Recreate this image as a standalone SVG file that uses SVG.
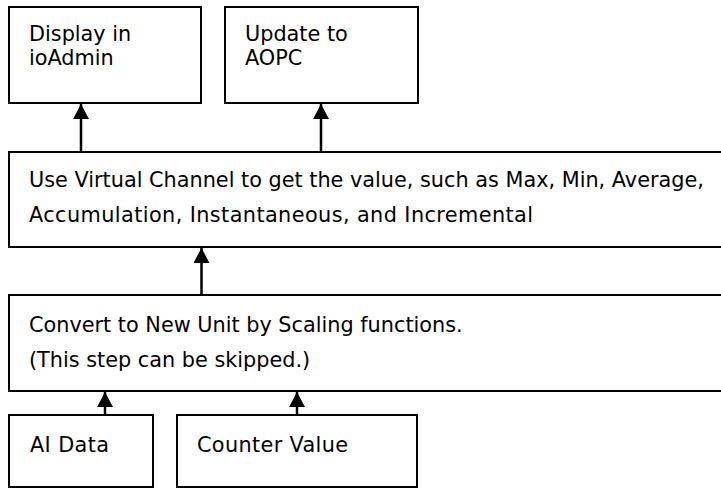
<svg xmlns="http://www.w3.org/2000/svg" width="721" height="488" viewBox="0 0 721 488">
<style>
.box{fill:#fff;stroke:#000;stroke-width:2}
.t{font-family:"DejaVu Sans","Verdana",sans-serif;font-size:20.8px;fill:#000}
.c{stroke:#000;stroke-width:2.5;fill:none}
</style>
<defs>
<marker id="ah" markerUnits="userSpaceOnUse" markerWidth="16" markerHeight="16" viewBox="0 0 16 16" refX="15" refY="8" orient="auto">
<polygon points="0,0 15,8 0,16" fill="#000"/>
</marker>
</defs>
<rect width="721" height="488" fill="#fff"/>
<g id="n1"><rect class="box" x="9" y="7" width="192" height="96"/><text class="t" x="29" y="41">Display in</text><text class="t" x="29" y="64.5">ioAdmin</text></g>
<g id="n2"><rect class="box" x="225" y="7" width="193" height="96"/><text class="t" x="245" y="41">Update to</text><text class="t" x="245" y="64.5">AOPC</text></g>
<g id="n3"><rect class="box" x="9" y="152" width="760" height="95"/><text class="t" x="29" y="187">Use Virtual Channel to get the value, such as Max, Min, Average,</text><text class="t" x="29" y="222" textLength="504" lengthAdjust="spacing">Accumulation, Instantaneous, and Incremental</text></g>
<g id="n4"><rect class="box" x="9" y="295" width="760" height="96"/><text class="t" x="29" y="332">Convert to New Unit by Scaling functions.</text><text class="t" x="29" y="367">(This step can be skipped.)</text></g>
<g id="n5"><rect class="box" x="9" y="415" width="144" height="72"/><text class="t" x="30" y="452" textLength="79" lengthAdjust="spacing">AI Data</text></g>
<g id="n6"><rect class="box" x="177" y="415" width="240" height="72"/><text class="t" x="197" y="452" textLength="151" lengthAdjust="spacing">Counter Value</text></g>
<g id="connectors">
<path class="c" d="M81,151 V104" marker-end="url(#ah)"/>
<path class="c" d="M321,151 V104" marker-end="url(#ah)"/>
<path class="c" d="M201.5,294 V248" marker-end="url(#ah)"/>
<path class="c" d="M105,414 V392" marker-end="url(#ah)"/>
<path class="c" d="M297,414 V392" marker-end="url(#ah)"/>
</g>
</svg>
